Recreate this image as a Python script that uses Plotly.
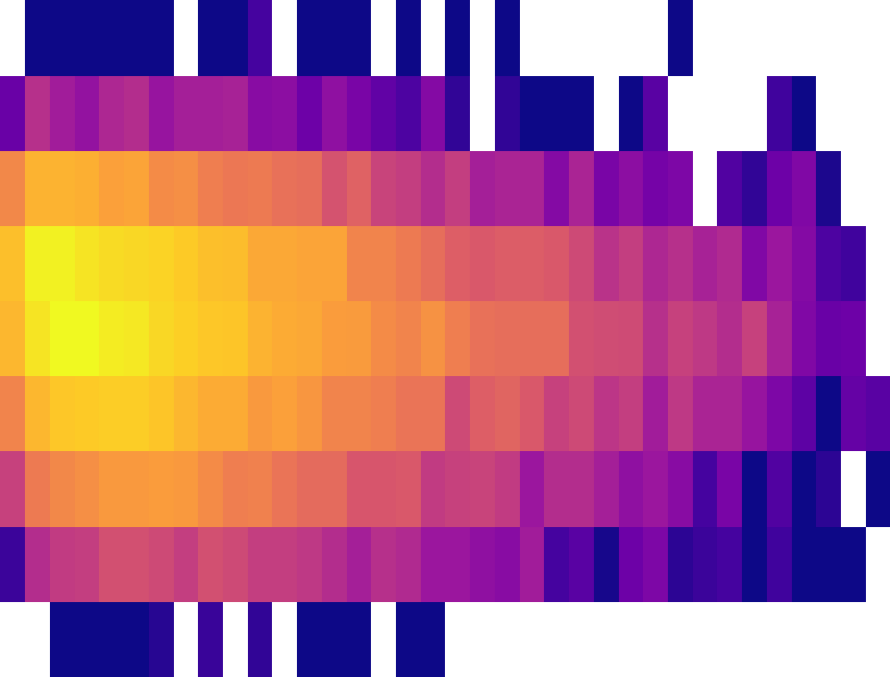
import plotly.graph_objects as go

N = None
row_0 = [N,0,0,0,0,0,0,N,0,0,.11,N,0,0,0,N,0,N,0,N,0,N,N,N,N,N,N,0,N,N,N,N,N,N,N,N]
row_1 = [.20,.42,.35,.31,.39,.41,.32,.36,.36,.37,.28,.29,.21,.30,.24,.18,.13,.27,.07,N,.07,0,0,0,N,0,.16,N,N,N,N,.10,0,N,N,N]
row_2 = [.71,.83,.83,.82,.78,.79,.72,.73,.68,.66,.67,.64,.63,.54,.59,.49,.47,.41,.47,.36,.38,.38,.27,.38,.24,.29,.23,.25,N,.14,.07,.21,.26,.03,N,N]
row_3 = [.86,.98,.98,.95,.93,.92,.91,.89,.86,.855,.80,.80,.79,.79,.70,.70,.67,.63,.58,.56,.575,.575,.56,.51,.43,.47,.39,.42,.37,.40,.26,.33,.27,.13,.10,N]
row_4 = [.84,.95,1,1,.97,.96,.92,.90,.88,.875,.83,.81,.80,.77,.765,.72,.70,.74,.68,.64,.63,.63,.63,.53,.52,.515,.42,.48,.45,.41,.48,.37,.26,.20,.21,N]
row_5 = [.70,.84,.88,.89,.895,.895,.875,.84,.81,.81,.76,.78,.75,.70,.70,.68,.65,.65,.51,.58,.60,.56,.48,.51,.44,.47,.35,.45,.38,.38,.32,.25,.17,0,.19,.16]
row_6 = [.48,.67,.71,.73,.76,.76,.77,.76,.72,.68,.69,.65,.62,.62,.55,.55,.56,.46,.48,.49,.46,.33,.41,.41,.36,.30,.33,.28,.11,.24,0,.14,0,.06,N,0]
row_7 = [.09,.41,.46,.47,.53,.53,.51,.47,.53,.51,.47,.47,.45,.41,.36,.42,.40,.33,.33,.30,.28,.35,.11,.16,.02,.21,.25,.06,.09,.11,0,.10,0,0,0,N]
row_8 = [N,N,0,0,0,0,.05,N,.085,N,.07,N,0,0,0,N,0,0,N,N,N,N,N,N,N,N,N,N,N,N,N,N,N,N,N,N]

rows = [row_0, row_1, row_2, row_3, row_4, row_5, row_6, row_7, row_8]

# bin edges: the outer bins run slightly past the plot area so no white sliver shows
x_edges = [-0.6] + [i + 0.5 for i in range(35)] + [35.6]
y_edges = [-0.6] + [i + 0.5 for i in range(8)] + [8.6]

fig = go.Figure(go.Heatmap(z=rows, x=x_edges, y=y_edges, colorscale="Plasma", zmin=0, zmax=1,
                           showscale=False, hoverongaps=False))
fig.update_layout(
    width=890, height=677,
    margin=dict(l=0, r=0, t=0, b=0),
    paper_bgcolor="white", plot_bgcolor="white",
    xaxis=dict(visible=False, range=[-0.516, 35.484]),
    yaxis=dict(visible=False, range=[8.50133, -0.50732]),
)
fig.write_html("out.html", post_script="document.body.style.margin='0';",
               config={"displayModeBar": False})
